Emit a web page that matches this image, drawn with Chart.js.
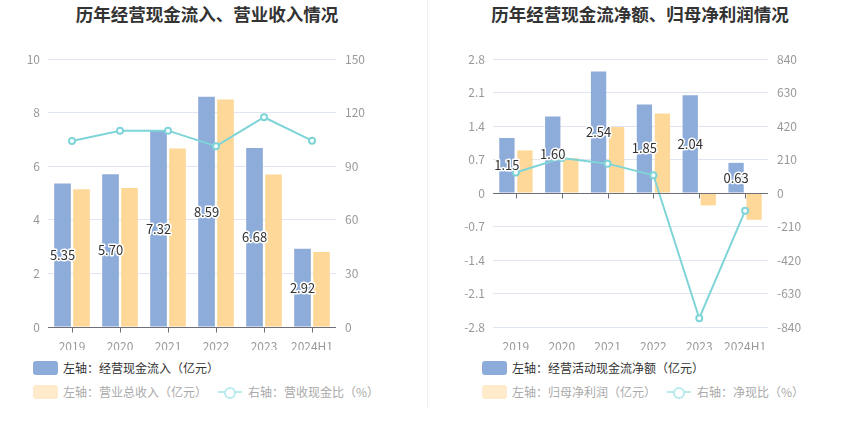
<!DOCTYPE html>
<html>
<head>
<meta charset="utf-8">
<script src="https://cdn.jsdelivr.net/npm/chart.js@4.4.0/dist/chart.umd.min.js"></script>
<style>
  body { margin: 0; background: #fff; font-family: "Noto Sans CJK SC", "Noto Sans", sans-serif; }
  #wrap { position: relative; width: 850px; height: 437px; overflow: hidden; }
  .title { position: absolute; top: 1px; font-size: 17.5px; font-weight: bold; color: #333; text-align: center; width: 425px; line-height: 26px; }
  .box { position: absolute; top: 0; height: 350px; }
  .sep { position: absolute; left: 427px; top: 0; width: 1px; height: 408px; background: #eee; }
  .lg { position: absolute; font-size: 12px; line-height: 16px; white-space: nowrap; display: flex; align-items: center; }
  .sw { display: inline-block; width: 25px; height: 14px; border-radius: 3px; margin-right: 5px; }
  .ln { display: inline-block; position: relative; width: 24px; height: 14px; margin-right: 6px; }
  .ln:before { content: ""; position: absolute; left: 0; right: 0; top: 6px; height: 2px; background: #b9ebed; }
  .ln:after { content: ""; position: absolute; left: 6px; top: 2px; width: 8px; height: 8px; border: 2px solid #b9ebed; border-radius: 50%; background: #fff; }
</style>
</head>
<body>
<div id="wrap">
  <div class="title" style="left:0;width:414px">历年经营现金流入、营业收入情况</div>
  <div class="title" style="left:428px;width:424px">历年经营现金流净额、归母净利润情况</div>
  <div class="box" style="left:0;width:425px"><canvas id="c1"></canvas></div>
  <div class="box" style="left:428px;width:422px"><canvas id="c2"></canvas></div>
  <div class="sep"></div>

  <div class="lg" style="left:33px;top:360px;color:#333"><span class="sw" style="background:#8eacda"></span>左轴：经营现金流入（亿元）</div>
  <div class="lg" style="left:33px;top:384px;color:#aaa"><span class="sw" style="background:#ffebcc"></span>左轴：营业总收入（亿元）</div>
  <div class="lg" style="left:218px;top:384px;color:#aaa"><span class="ln"></span>右轴：营收现金比（%）</div>

  <div class="lg" style="left:482px;top:360px;color:#333"><span class="sw" style="background:#8eacda"></span>左轴：经营活动现金流净额（亿元）</div>
  <div class="lg" style="left:482px;top:384px;color:#aaa"><span class="sw" style="background:#ffebcc"></span>左轴：归母净利润（亿元）</div>
  <div class="lg" style="left:667px;top:384px;color:#aaa"><span class="ln"></span>右轴：净现比（%）</div>
</div>

<script>
// data
var years = ['2019', '2020', '2021', '2022', '2023', '2024H1'];

var cashIn = [5.35, 5.70, 7.32, 8.59, 6.68, 2.92];
var revenue = [5.14, 5.19, 6.66, 8.49, 5.69, 2.80];
var cashInRatio = [104.1, 109.8, 109.9, 101.2, 117.4, 104.3];

var netCash = [1.15, 1.60, 2.54, 1.85, 2.04, 0.63];
var netProfit = [0.89, 0.73, 1.38, 1.66, -0.26, -0.56];
var netCashRatio = [129, 219, 184, 111, -785, -112];

var BLUE = '#8eacda', ORANGE = '#fed899', TEAL = '#7fd4d8';
var GRID = '#e0e6f1', AXIS = '#6e7079', TICK = '#999';

Chart.defaults.font.family = '"Noto Sans CJK SC", "Noto Sans", sans-serif';
Chart.defaults.font.size = 12;
Chart.defaults.animation = false;

// zero axis line with small ticks under each category
var zeroAxis = {
  id: 'zeroAxis',
  afterDatasetsDraw: function(chart) {
    var ctx = chart.ctx, x = chart.scales.x, y = chart.scales.y;
    var y0 = Math.round(y.getPixelForValue(0)) + 0.5;
    ctx.save();
    ctx.strokeStyle = AXIS;
    ctx.lineWidth = 1;
    ctx.beginPath();
    ctx.moveTo(chart.chartArea.left, y0);
    ctx.lineTo(chart.chartArea.right, y0);
    for (var i = 0; i < years.length; i++) {
      var px = Math.round(x.getPixelForValue(i)) + 0.5;
      ctx.moveTo(px, y0);
      ctx.lineTo(px, y0 + 5);
    }
    ctx.stroke();
    ctx.restore();
  }
};

// value labels in the middle of the first bar series
var barLabels = {
  id: 'barLabels',
  afterDatasetsDraw: function(chart) {
    var ctx = chart.ctx;
    var meta = chart.getDatasetMeta(0);
    var data = chart.data.datasets[0].data;
    ctx.save();
    ctx.font = '13px "Noto Sans CJK SC", sans-serif';
    ctx.textAlign = 'center';
    ctx.textBaseline = 'middle';
    ctx.lineJoin = 'round';
    meta.data.forEach(function(bar, i) {
      var ty = (bar.y + bar.base) / 2;
      var txt = data[i].toFixed(2);
      ctx.strokeStyle = '#fff';
      ctx.lineWidth = 3;
      ctx.strokeText(txt, bar.x, ty);
      ctx.fillStyle = '#333';
      ctx.fillText(txt, bar.x, ty);
    });
    ctx.restore();
  }
};

function makeChart(id, bars1, bars2, line, left, right, leftW, rightW, cp, bp) {
  return new Chart(document.getElementById(id), {
    type: 'bar',
    data: {
      labels: years,
      datasets: [
        { type: 'bar', data: bars1, backgroundColor: BLUE, yAxisID: 'y', order: 2,
          categoryPercentage: cp, barPercentage: bp },
        { type: 'bar', data: bars2, backgroundColor: ORANGE, yAxisID: 'y', order: 2,
          categoryPercentage: cp, barPercentage: bp },
        { type: 'line', data: line, yAxisID: 'y1', order: 1,
          borderColor: TEAL, borderWidth: 2, tension: 0,
          pointRadius: 3, pointBorderWidth: 2,
          pointBackgroundColor: '#fff', pointBorderColor: TEAL }
      ]
    },
    options: {
      responsive: true,
      maintainAspectRatio: false,
      layout: { padding: { top: 59, left: 0, right: 0, bottom: 0 } },
      plugins: { legend: { display: false }, tooltip: { enabled: false } },
      scales: {
        x: {
          grid: { display: false },
          border: { display: false },
          ticks: { color: TICK, padding: 4, maxRotation: 0, autoSkip: false },
          afterFit: function(s) { s.height = 23; }
        },
        y: {
          position: 'left',
          min: left.min, max: left.max,
          border: { display: false },
          grid: {
            drawTicks: false,
            color: function(c) { return c.tick && c.tick.value === 0 ? 'rgba(0,0,0,0)' : GRID; }
          },
          ticks: {
            stepSize: left.step, color: TICK, padding: 8,
            callback: function(v) { return String(Math.round(v * 10) / 10); }
          },
          afterFit: function(s) { s.width = leftW; }
        },
        y1: {
          position: 'right',
          min: right.min, max: right.max,
          border: { display: false },
          grid: { display: false, drawTicks: false },
          ticks: {
            stepSize: right.step, color: TICK, padding: 9,
            callback: function(v) { return String(Math.round(v)); }
          },
          afterFit: function(s) { s.width = rightW; }
        }
      }
    },
    plugins: [zeroAxis, barLabels]
  });
}

makeChart('c1', cashIn, revenue, cashInRatio,
  { min: 0, max: 10, step: 2 }, { min: 0, max: 150, step: 30 }, 48, 89, 0.79, 0.88);
makeChart('c2', netCash, netProfit, netCashRatio,
  { min: -2.8, max: 2.8, step: 0.7 }, { min: -840, max: 840, step: 210 }, 65, 82, 0.786, 0.85);
</script>
</body>
</html>
